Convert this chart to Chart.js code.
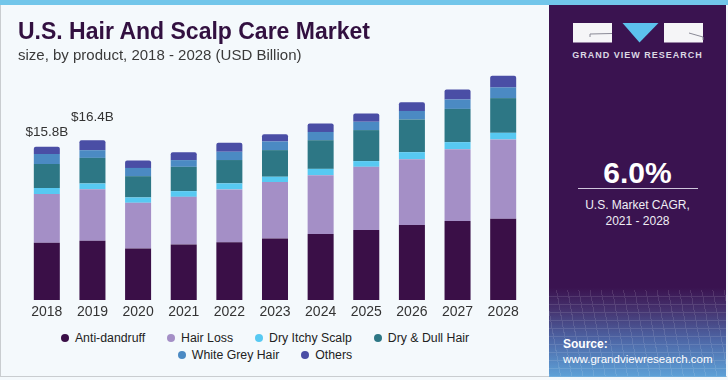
<!DOCTYPE html>
<html>
<head>
<meta charset="utf-8">
<script src="https://cdn.jsdelivr.net/npm/chart.js@4/dist/chart.umd.min.js"></script>
<style>
  html, body { margin: 0; padding: 0; }
  body { width: 728px; height: 380px; background: #f4f9fc; position: relative; overflow: hidden; font-family: "Liberation Sans", Arial, sans-serif; }
  #stripe { position: absolute; left: 0; top: 0; width: 728px; height: 5px; background: #72c6ea; }
  #frame { position: absolute; left: 0; top: 5px; width: 727px; height: 372px; border-left: 1px solid #c9cdd0; border-bottom: 1px solid #c9cdd0; box-sizing: border-box; }
  #title { position: absolute; left: 18px; top: 20px; font-size: 23px; line-height: 23px; font-weight: bold; color: #321040; white-space: nowrap; }
  #subtitle { position: absolute; left: 18px; top: 46.6px; font-size: 15px; line-height: 15px; color: #3a3a3a; white-space: nowrap; }
  #chartBox { position: absolute; left: 0; top: 0; width: 549px; height: 325px; }
  #legend { position: absolute; left: 0; top: 329px; width: 530px; font-size: 12.3px; color: #222; }
  .lrow { display: flex; justify-content: center; height: 17px; align-items: center; }
  .litem { display: flex; align-items: center; margin: 0 11px; white-space: nowrap; }
  .ldot { width: 8px; height: 8px; border-radius: 50%; margin-right: 6px; }
  #panel { position: absolute; left: 549px; top: 5px; width: 177px; height: 372px;
    background: linear-gradient(to bottom, #3a1350 0%, #3a1350 76%, #45336f 82%, #4d66a6 90%, #5ea2d8 100%); color: #fff; }
  #panel .c { position: absolute; left: 0; width: 177px; text-align: center; white-space: nowrap; }
  #brand { top: 45px; font-size: 9px; font-weight: bold; letter-spacing: 1px; color: #dcd8e4; }
  #cagr { top: 151px; font-size: 30px; line-height: 34px; font-weight: bold; }
  #rule { position: absolute; left: 29px; top: 183px; width: 120px; height: 1px; background: #cfc6dc; }
  #cl1 { top: 193px; font-size: 12px; line-height: 14px; color: #f0eef4; }
  #cl2 { top: 209px; font-size: 12px; line-height: 14px; color: #f0eef4; }
  #src1 { position: absolute; left: 14px; top: 332px; font-size: 12px; font-weight: bold; }
  #src2 { position: absolute; left: 14px; top: 348px; font-size: 11.5px; }
  #grid { position: absolute; left: 0; top: 285px; width: 177px; height: 87px; opacity: 0.11;
    background-image: repeating-linear-gradient(80deg, #fff 0 1px, transparent 1px 11px), repeating-linear-gradient(0deg, #fff 0 1px, transparent 1px 8px); }
</style>
</head>
<body>
<div id="stripe"></div>
<div id="frame"></div>
<div id="chartBox"><canvas id="chart"></canvas></div>
<div id="title">U.S. Hair And Scalp Care Market</div>
<div id="subtitle">size, by product, 2018 - 2028 (USD Billion)</div>
<div id="legend"></div>
<div id="panel">
  <div id="grid"></div>
  <svg style="position:absolute;left:0;top:0" width="177" height="50">
    <rect x="24" y="18" width="39" height="19.5" fill="#f5f5f7"/>
    <polyline points="41,32 41,29 63,28.5" fill="none" stroke="#8a8a96" stroke-width="1"/>
    <polygon points="73.5,18 109.5,18 90.5,37.5" fill="#5cc1ec"/>
    <rect x="115" y="18" width="39" height="19.5" fill="#f5f5f7"/>
    <polyline points="140,28 154,32 154,35" fill="none" stroke="#8a8a96" stroke-width="1"/>
  </svg>
  <div class="c" id="brand">GRAND VIEW RESEARCH</div>
  <div class="c" id="cagr">6.0%</div>
  <div id="rule"></div>
  <div class="c" id="cl1">U.S. Market CAGR,</div>
  <div class="c" id="cl2">2021 - 2028</div>
  <div id="src1">Source:</div>
  <div id="src2">www.grandviewresearch.com</div>
</div>
<script>
// ---- Data (USD Billion) ----
const years = ['2018','2019','2020','2021','2022','2023','2024','2025','2026','2027','2028'];
const antiDandruff  = [5.90, 6.09, 5.31, 5.72, 5.93, 6.34, 6.78, 7.19, 7.71, 8.12, 8.36];
const hairLoss      = [5.00, 5.31, 4.69, 4.89, 5.45, 5.79, 6.06, 6.51, 6.78, 7.40, 8.16];
const dryItchyScalp = [0.62, 0.59, 0.55, 0.59, 0.62, 0.55, 0.65, 0.59, 0.72, 0.72, 0.68];
const dryDullHair   = [2.47, 2.63, 2.19, 2.50, 2.40, 2.74, 2.95, 3.19, 3.36, 3.42, 3.57];
const whiteGreyHair = [1.03, 0.79, 0.85, 0.69, 0.85, 0.89, 0.85, 0.85, 0.88, 0.97, 1.10];
const others        = [0.75, 1.03, 0.76, 0.82, 0.92, 0.75, 0.86, 0.86, 0.89, 1.03, 1.19];
const seriesNames   = ['Anti-dandruff', 'Hair Loss', 'Dry Itchy Scalp', 'Dry & Dull Hair', 'White Grey Hair', 'Others'];
const totalLabels   = ['$15.8B', '$16.4B'];

const seriesValues = [antiDandruff, hairLoss, dryItchyScalp, dryDullHair, whiteGreyHair, others];
const colors = ['#3a0f47', '#a48fc6', '#57c9f2', '#2d7785', '#4b8ac3', '#4a4ea5'];

// HTML legend (rows as in the reference)
const legendRows = [[0,1,2,3],[4,5]];
const legendEl = document.getElementById('legend');
legendRows.forEach(row => {
  const r = document.createElement('div'); r.className = 'lrow';
  row.forEach(i => {
    const it = document.createElement('div'); it.className = 'litem';
    const d = document.createElement('span'); d.className = 'ldot'; d.style.background = colors[i];
    const t = document.createElement('span'); t.textContent = seriesNames[i];
    it.appendChild(d); it.appendChild(t); r.appendChild(it);
  });
  legendEl.appendChild(r);
});

const totalsPlugin = {
  id: 'totals',
  afterDatasetsDraw(chart) {
    const {ctx, scales: {x, y}} = chart;
    const gaps = [10.7, 19.3];
    ctx.save();
    ctx.font = '13.5px "Liberation Sans", Arial, sans-serif';
    ctx.fillStyle = '#333';
    ctx.textAlign = 'center';
    ctx.textBaseline = 'alphabetic';
    totalLabels.forEach((lbl, i) => {
      const total = seriesValues.reduce((s, arr) => s + arr[i], 0);
      ctx.fillText(lbl, x.getPixelForValue(i), y.getPixelForValue(total) - gaps[i]);
    });
    ctx.restore();
  }
};

new Chart(document.getElementById('chart'), {
  type: 'bar',
  data: {
    labels: years,
    datasets: seriesNames.map((n, i) => ({
      label: n,
      data: seriesValues[i],
      backgroundColor: colors[i],
      borderWidth: 0,
      borderRadius: i === seriesNames.length - 1 ? {topLeft: 2, topRight: 2, bottomLeft: 0, bottomRight: 0} : 0,
      borderSkipped: false,
      barPercentage: 0.57,
      categoryPercentage: 1.0
    }))
  },
  options: {
    responsive: true,
    maintainAspectRatio: false,
    devicePixelRatio: 1,
    animation: false,
    layout: { padding: { top: 57, left: 24, right: 23, bottom: 3 } },
    plugins: { legend: { display: false }, tooltip: { enabled: false }, title: { display: false } },
    scales: {
      x: {
        stacked: true,
        grid: { display: false, drawTicks: false },
        border: { display: false },
        ticks: { color: '#333', padding: 4, font: { size: 14, family: '"Liberation Sans", Arial, sans-serif' } },
        afterFit: (s) => { s.height = 22; }
      },
      y: {
        stacked: true,
        display: false,
        min: 0,
        max: 25
      }
    }
  },
  plugins: [totalsPlugin]
});
</script>
</body>
</html>
